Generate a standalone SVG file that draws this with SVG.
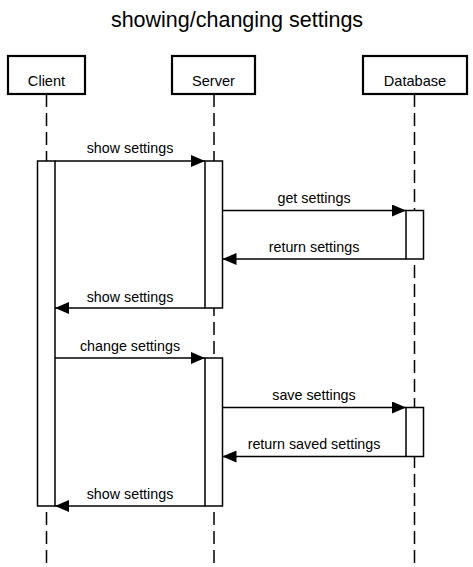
<svg xmlns="http://www.w3.org/2000/svg" width="473" height="567" viewBox="0 0 473 567">
<style>
text{font-family:"Liberation Sans",Arial,sans-serif;fill:#000}
.title{font-size:21.5px;text-anchor:middle}
.lbl{font-size:14.3px;text-anchor:middle}
.actor text{font-size:14.6px}
.actor rect{fill:#fff;stroke:#000;stroke-width:2.2}
.life{stroke:#000;stroke-width:1.5;stroke-dasharray:13,6}
.act{fill:#fff;stroke:#000;stroke-width:1.5}
.msg{stroke:#000;stroke-width:1.5;fill:none}
</style>
<defs>
<marker id="ah" viewBox="0 0 14 12" refX="14" refY="6" markerWidth="14" markerHeight="12" markerUnits="userSpaceOnUse" orient="auto">
<path d="M0,0 L14,6 L0,12 Z" fill="#000"/>
</marker>
</defs>
<rect width="473" height="567" fill="#fff"/>
<text class="title" x="237" y="27">showing/changing settings</text>
<g id="lifelines">
<line class="life" x1="46.5" y1="94" x2="46.5" y2="567"/>
<line class="life" x1="214" y1="94" x2="214" y2="567"/>
<line class="life" x1="414.5" y1="94" x2="414.5" y2="567"/>
</g>
<g id="client" class="actor"><rect x="8" y="56" width="77" height="38"/><text class="lbl" x="46.5" y="85.5">Client</text></g>
<g id="server" class="actor"><rect x="172" y="56" width="83" height="38"/><text class="lbl" x="213.5" y="85.5">Server</text></g>
<g id="database" class="actor"><rect x="363" y="56" width="104" height="38"/><text class="lbl" x="415" y="85.5">Database</text></g>
<g id="activations">
<rect class="act" x="37.5" y="161" width="17.5" height="345"/>
<rect class="act" x="205" y="161" width="17.5" height="147"/>
<rect class="act" x="406" y="210.5" width="17.5" height="48.5"/>
<rect class="act" x="205" y="358" width="17.5" height="148"/>
<rect class="act" x="406" y="407.5" width="17.5" height="49"/>
</g>
<g id="connectors">
<line class="msg" x1="55" y1="161" x2="205" y2="161" marker-end="url(#ah)"/>
<text class="lbl" x="130" y="153">show settings</text>
<line class="msg" x1="222.5" y1="210.5" x2="406" y2="210.5" marker-end="url(#ah)"/>
<text class="lbl" x="314" y="203">get settings</text>
<line class="msg" x1="406" y1="259" x2="222.5" y2="259" marker-end="url(#ah)"/>
<text class="lbl" x="314" y="252">return settings</text>
<line class="msg" x1="205" y1="308" x2="55" y2="308" marker-end="url(#ah)"/>
<text class="lbl" x="130" y="302">show settings</text>
<line class="msg" x1="55" y1="358" x2="205" y2="358" marker-end="url(#ah)"/>
<text class="lbl" x="130" y="351">change settings</text>
<line class="msg" x1="222.5" y1="407.5" x2="406" y2="407.5" marker-end="url(#ah)"/>
<text class="lbl" x="314" y="400">save settings</text>
<line class="msg" x1="406" y1="456.5" x2="222.5" y2="456.5" marker-end="url(#ah)"/>
<text class="lbl" x="314" y="449">return saved settings</text>
<line class="msg" x1="205" y1="506" x2="55" y2="506" marker-end="url(#ah)"/>
<text class="lbl" x="130" y="499">show settings</text>
</g>
</svg>
